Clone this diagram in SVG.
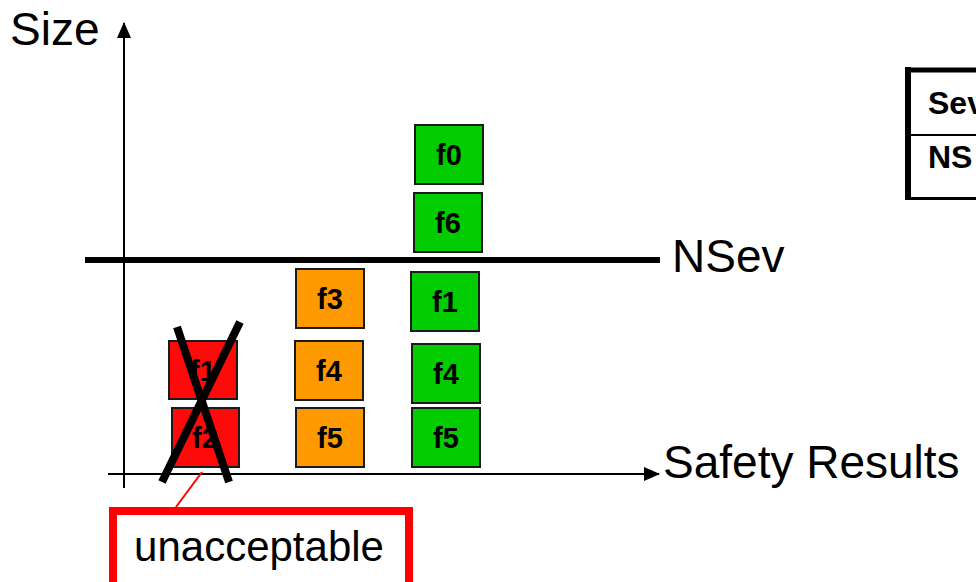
<svg xmlns="http://www.w3.org/2000/svg" width="976" height="582" viewBox="0 0 976 582">
  <style>
    .lbl { font-family: "Liberation Sans", Arial, sans-serif; fill: #000; }
    .big { font-size: 46px; }
    .box rect { stroke: #1a1a1a; stroke-width: 2; }
    .box text { font-family: "Liberation Sans", Arial, sans-serif; font-weight: bold; font-size: 29px; text-anchor: middle; fill: #000; }
    .red rect { fill: #ff0a0a; }
    .orange rect { fill: #ff9900; }
    .green rect { fill: #00cc00; }
    .axis { stroke: #000; stroke-width: 2; fill: none; }
    .cross { stroke: #000; stroke-width: 8; }
    .tbl { font-family: "Liberation Sans", Arial, sans-serif; font-weight: bold; font-size: 32px; fill: #000; }
  </style>
  <defs>
    <marker id="arrow" viewBox="0 0 16 14" refX="15" refY="7" markerWidth="16" markerHeight="14" markerUnits="userSpaceOnUse" orient="auto">
      <path d="M0,0 L16,7 L0,14 Z" fill="#000"/>
    </marker>
  </defs>
  <rect width="976" height="582" fill="#fff"/>

  <!-- axes and threshold -->
  <g id="connectors">
    <line class="axis" x1="124" y1="488" x2="124" y2="23" marker-end="url(#arrow)"/>
    <line class="axis" x1="108" y1="474" x2="659" y2="474" marker-end="url(#arrow)"/>
    <line x1="85" y1="260" x2="660" y2="260" stroke="#000" stroke-width="6"/>
    <line x1="202" y1="472" x2="176" y2="507" stroke="#ff0000" stroke-width="2"/>
  </g>

  <text class="lbl big" x="10" y="45">Size</text>
  <text class="lbl big" x="672" y="272">NSev</text>
  <text class="lbl big" x="663" y="478">Safety Results</text>

  <!-- rejected column -->
  <g id="r-f1" class="box red">
    <rect x="169" y="341" width="68" height="58"/>
    <text x="203" y="381">f1</text>
  </g>
  <g id="r-f2" class="box red">
    <rect x="172" y="408" width="67" height="59"/>
    <text x="205" y="448">f2</text>
  </g>
  <g id="reject-cross">
    <line class="cross" x1="177" y1="327" x2="229" y2="482"/>
    <line class="cross" x1="240" y1="322" x2="162" y2="482"/>
  </g>

  <!-- middle column -->
  <g id="o-f3" class="box orange">
    <rect x="296" y="269" width="68" height="59"/>
    <text x="330" y="309">f3</text>
  </g>
  <g id="o-f4" class="box orange">
    <rect x="295" y="341" width="68" height="59"/>
    <text x="329" y="381">f4</text>
  </g>
  <g id="o-f5" class="box orange">
    <rect x="296" y="408" width="68" height="59"/>
    <text x="330" y="448">f5</text>
  </g>

  <!-- right column -->
  <g id="g-f0" class="box green">
    <rect x="415" y="125" width="68" height="59"/>
    <text x="449" y="165">f0</text>
  </g>
  <g id="g-f6" class="box green">
    <rect x="414" y="193" width="68" height="59"/>
    <text x="448" y="233">f6</text>
  </g>
  <g id="g-f1" class="box green">
    <rect x="411" y="272" width="68" height="59"/>
    <text x="445" y="312">f1</text>
  </g>
  <g id="g-f4" class="box green">
    <rect x="412" y="344" width="68" height="59"/>
    <text x="446" y="384">f4</text>
  </g>
  <g id="g-f5" class="box green">
    <rect x="412" y="408" width="68" height="59"/>
    <text x="446" y="448">f5</text>
  </g>

  <!-- callout -->
  <g id="unacceptable">
    <rect x="113" y="511" width="296" height="80" fill="#fff" stroke="#ff0000" stroke-width="8"/>
    <text class="lbl" x="259" y="561" font-size="42" text-anchor="middle">unacceptable</text>
  </g>

  <!-- legend table -->
  <g id="legend">
    <line x1="908" y1="67" x2="908" y2="200" stroke="#000" stroke-width="6"/>
    <line x1="905" y1="70" x2="976" y2="70" stroke="#000" stroke-width="5"/>
    <line x1="908" y1="135" x2="976" y2="135" stroke="#000" stroke-width="2"/>
    <line x1="905" y1="198.5" x2="976" y2="198.5" stroke="#000" stroke-width="3"/>
    <text class="tbl" x="928" y="114">Sev</text>
    <text class="tbl" x="928" y="168">NS</text>
  </g>
</svg>
